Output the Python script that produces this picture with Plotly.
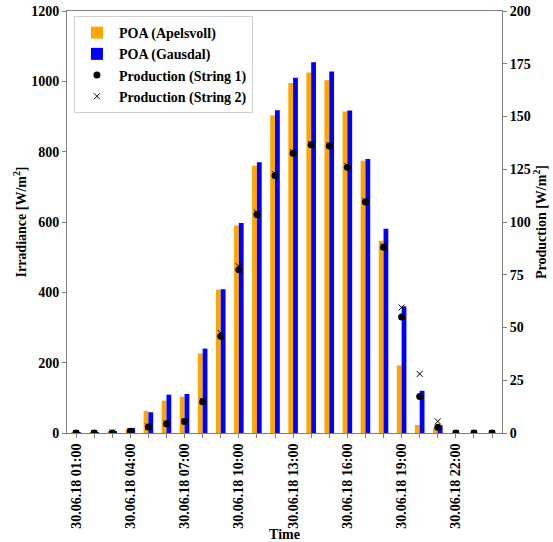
import plotly.graph_objects as go

hours = list(range(1, 25))
tick_hours = [1, 4, 7, 10, 13, 16, 19, 22]

poa_apelsvoll = [1, 1, 3, 10, 63, 92, 103, 226, 407, 590, 760, 903, 995, 1025, 1003, 914, 774, 547, 192, 23, 14, 0, 0, 0]
poa_gausdal = [2, 2, 4, 14, 59, 109, 111, 240, 409, 597, 770, 918, 1010, 1054, 1028, 917, 779, 581, 360, 120, 22, 0, 0, 0]
prod_string1 = [0, 0, 0, 0.8, 2.8, 4.4, 5.4, 14.8, 45.8, 77.4, 103.5, 122, 132.6, 136.6, 136, 126, 109.5, 88, 55, 17.3, 2.7, 0, 0, 0]
prod_string2 = [0, 0, 0.3, 1, 3, 4.6, 5.6, 15.3, 47.4, 79, 104.5, 122.8, 133.2, 137, 136.5, 126.5, 110, 88.5, 59.5, 28, 5.5, 0, 0, 0]

FONT = "Liberation Serif"
AX = "#808080"

fig = go.Figure()
fig.add_trace(go.Bar(x=hours, y=poa_apelsvoll, name="POA (Apelsvoll)", marker=dict(color="#FFA500", line=dict(width=0))))
fig.add_trace(go.Bar(x=hours, y=poa_gausdal, name="POA (Gausdal)", marker=dict(color="#0000FF", line=dict(width=0))))
fig.add_trace(go.Scatter(x=hours, y=prod_string1, name="Production (String 1)", mode="markers",
                         marker=dict(symbol="circle", size=7, color="black"), yaxis="y2"))
fig.add_trace(go.Scatter(x=hours, y=prod_string2, name="Production (String 2)", mode="markers",
                         marker=dict(symbol="x-thin-open", size=6, color="black", line=dict(width=1, color="black")), yaxis="y2"))

ticktext = [("30.06.18 %02d:00" % h) if h in tick_hours else "" for h in hours]
tf = dict(family=FONT, size=14, color="black", weight="bold")
titf = dict(family=FONT, size=14, color="black", weight="bold")

fig.update_layout(
    width=553, height=542,
    margin=dict(l=67, r=51, t=11, b=109),
    plot_bgcolor="white", paper_bgcolor="white",
    barmode="group", bargap=0.47, bargroupgap=0,
    font=dict(family=FONT, size=14, color="black"),
    showlegend=True,
    legend=dict(x=0.016, y=0.988, xanchor="left", yanchor="top",
                bgcolor="rgba(255,255,255,0.9)", bordercolor="#d0d0d0", borderwidth=1,
                font=dict(family=FONT, size=14, color="black", weight="bold"),
                itemwidth=34, tracegroupgap=0),
    xaxis=dict(range=[0.5, 24.55], tickmode="array", tickvals=hours, ticktext=ticktext,
               tickangle=-90, ticks="outside", ticklen=4, tickcolor=AX, automargin=False,
               showline=True, linecolor=AX, linewidth=1, mirror=True, showgrid=False, zeroline=False,
               tickfont=tf,
               title=dict(text="Time", font=titf, standoff=2)),
    yaxis=dict(range=[0, 1200], tickvals=[0, 200, 400, 600, 800, 1000, 1200],
               ticks="outside", ticklen=4, tickcolor=AX, automargin=False,
               showline=True, linecolor=AX, linewidth=1, showgrid=False, zeroline=False,
               tickfont=tf,
               title=dict(text="Irradiance [W/m<sup>2</sup>]", font=titf, standoff=1)),
    yaxis2=dict(range=[0, 200], tickvals=[0, 25, 50, 75, 100, 125, 150, 175, 200],
                overlaying="y", side="right", automargin=False,
                ticks="outside", ticklen=4, tickcolor=AX,
                showline=True, linecolor=AX, linewidth=1, showgrid=False, zeroline=False,
                tickfont=tf,
                title=dict(text="Production [W/m<sup>2</sup>]", font=titf, standoff=6)),
)

fig.write_html("out.html")
